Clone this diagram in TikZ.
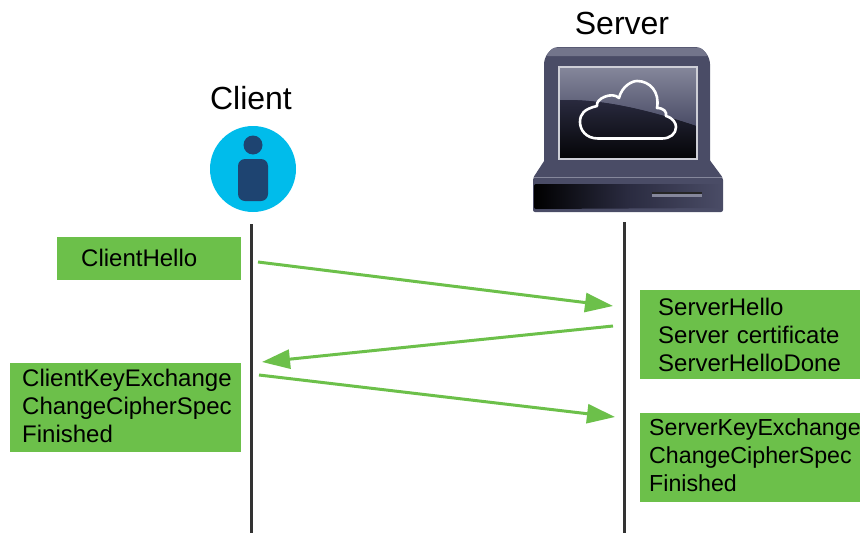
\documentclass[tikz,border=0pt]{standalone}
\usepackage{fontspec}
\setmainfont{Liberation Sans}
\usetikzlibrary{arrows.meta}
\definecolor{msggreen}{HTML}{6CC04A}
\definecolor{clientblue}{HTML}{00BCEB}
\definecolor{clientdark}{HTML}{1E4471}
\definecolor{slate}{HTML}{4A4C66}
\definecolor{slatelight}{HTML}{85879B}
\definecolor{slatedark}{HTML}{2A2B40}
\tikzset{
    msgbox/.style={
        rectangle,
        fill=msggreen,
        anchor=north west,
        align=left,
        inner ysep=0,
        font=\fontsize{24}{28}\selectfont
    },
    titlenode/.style={
        inner sep=0,
        font=\fontsize{32}{38}\selectfont
    },
    lifeline/.style={
        draw=black!80,
        line width=3pt
    },
    msgarrow/.style={
        draw=msggreen,
        line width=3pt,
        -{Triangle[length=28pt,width=19pt]}
    }
}

\begin{document}
\begin{tikzpicture}[x=1pt,y=-1pt]
    \useasboundingbox (0,0) rectangle (860,533);
    % titles
    \node[titlenode] (client) at (251,98) {Client};
    \node[titlenode] (server) at (622,23) {Server};
    % client icon
    \fill[clientblue] (253,169) circle (43);
    \fill[clientdark] (253,145) circle (9.5);
    \fill[clientdark, rounded corners=7pt] (238,159) rectangle (268,201);
    % server base
    \fill[slate, rounded corners=2pt] (548,155) -- (706,155) -- (723,178) -- (723,212) -- (533,212) -- (533,178) -- cycle;
    \draw[slatelight, line width=1pt] (534,177.5) -- (722,177.5);
    \shade[left color=black, right color=slate, middle color=slatedark, rounded corners=2pt]
        (534,184) -- (722,184) -- (722,208) -- (534,209) -- cycle;
    \fill[slatelight] (652,192) rectangle (702,197);
    \fill[black!85] (652,192) rectangle (702,194);
    % server monitor
    \fill[slate, rounded corners=6pt] (544,172) -- (544,58) -- (553,47) -- (701,47) -- (710,58) -- (710,172) -- cycle;
    \fill[slatelight!70!slate, rounded corners=2pt] (546,56) -- (553,47.5) -- (701,47.5) -- (708,56) -- cycle;
    % screen
    \shade[top color=slatedark, bottom color=black!90!slatedark]
        (559,100) .. controls (600,98) and (650,110) .. (697,126) -- (697,159) -- (559,159) -- cycle;
    \shade[top color=slatelight, bottom color=slate]
        (559,67) -- (697,67) -- (697,126) .. controls (650,110) and (600,98) .. (559,100) -- cycle;
    \draw[slatelight!40!white, line width=1.2pt] (559,67) rectangle (697,159);
    % cloud
    \draw[white, line width=2.6pt, line join=round]
        (598,138.5) .. controls (586,138.5) and (580,130) .. (580,122)
        .. controls (580,114) and (584,109) .. (597,106)
        .. controls (595,99) and (612,91) .. (619,98)
        .. controls (622,86) and (632,81) .. (637,81)
        .. controls (650,81) and (660,92) .. (657,108)
        .. controls (664,108) and (667,112) .. (666,116)
        .. controls (673,118) and (676,123) .. (676,127)
        .. controls (676,134) and (670,138.5) .. (662,138.5)
        -- cycle;
    % lifelines
    \coordinate (clienttop) at (251,224);
    \coordinate (clientend) at (251,533);
    \coordinate (servertop) at (624,222);
    \coordinate (serverend) at (624,533);
    \draw[lifeline] (clienttop) -- (clientend);
    \draw[lifeline] (servertop) -- (serverend);
    % messages
    \node[msgbox, inner xsep=24pt, text width=136pt, minimum height=43pt] (hello) at (57,237) {ClientHello\vspace{2pt}};
    \node[msgbox, inner xsep=12pt, text width=207pt, minimum height=89pt] (keyex) at (10,363) {ClientKeyExchange\\ChangeCipherSpec\\Finished\vspace{4pt}};
    \node[msgbox, inner xsep=18pt, text width=184pt, minimum height=89pt] (shello) at (640,290) {ServerHello\\Server certificate\\ServerHelloDone};
    \node[msgbox, inner xsep=9pt, text width=202pt, minimum height=89pt, font=\fontsize{23.2}{28}\selectfont] (skeyex) at (640,413) {ServerKeyExchange\\ChangeCipherSpec\\Finished\vspace{4pt}};
    % arrows
    \coordinate (a1) at (258,262);
    \coordinate (a2) at (613,306);
    \coordinate (b1) at (613,326);
    \coordinate (b2) at (262,362);
    \coordinate (c1) at (259,375);
    \coordinate (c2) at (615,417);
    \draw[msgarrow] (a1) -- (a2);
    \draw[msgarrow] (b1) -- (b2);
    \draw[msgarrow] (c1) -- (c2);
\end{tikzpicture}
\end{document}
